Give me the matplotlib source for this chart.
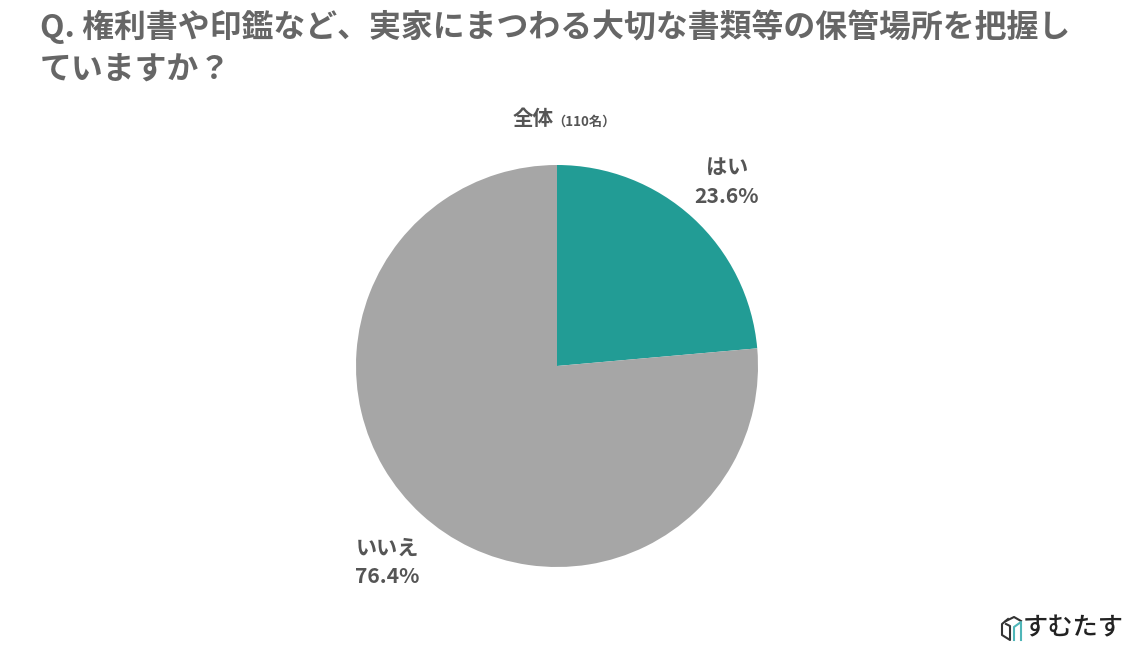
import matplotlib
matplotlib.use("Agg")
import matplotlib.pyplot as plt

plt.rcParams['font.family'] = ['Noto Sans CJK JP', 'DejaVu Sans']

title_lines = ["Q. 権利書や印鑑など、実家にまつわる大切な書類等の保管場所を把握し", "ていますか？"]
subtitle = "全体"
subtitle_n = "（110名）"
categories = ["はい", "いいえ"]
values = [23.6, 76.4]
labels = ["23.6%", "76.4%"]
colors = ["#229c95", "#a6a6a6"]
brand = "すむたす"

W, H = 1140, 655
fig = plt.figure(figsize=(W/100, H/100), dpi=100, facecolor="white")
ax = fig.add_axes([356/W, 1-567/H, 402/W, 402/H])
ax.pie(values, colors=colors, startangle=90, counterclock=False, radius=1.0,
       wedgeprops=dict(linewidth=0))
ax.set_xlim(-1, 1); ax.set_ylim(-1, 1); ax.set_aspect("equal")

tc = "#555555"
def T(x, y, s, size, ha="left", color=tc, weight="bold"):
    fig.text(x/W, 1-y/H, s, fontsize=size, ha=ha, va="center", color=color, fontweight=weight)

T(40, 27, title_lines[0], 22.95, color="#666666")
T(40, 70, title_lines[1], 22.95, color="#666666")
T(513, 118.5, subtitle, 14.8)
T(552, 122, subtitle_n, 9.5)
T(727, 167, categories[0], 15.2, ha="center")
T(727, 196.5, labels[0], 15.2, ha="center")
T(387, 548, categories[1], 15.2, ha="center")
T(387, 576.5, labels[1], 15.2, ha="center")
T(1073.5, 628, brand, 18.2, ha="center", color="#222222", weight="medium")

# brand mark
la = fig.add_axes([0, 0, 1, 1], facecolor="none")
la.set_xlim(0, W); la.set_ylim(H, 0); la.axis("off")
la.plot([1008, 1002, 1002, 1010, 1010, 1006], [619, 624, 635, 640, 626, 624], color="#333333", lw=1.5)
la.plot([1006, 1014, 1021], [621, 617, 621], color="#333333", lw=1.5)
la.plot([1014, 1014, 1021, 1021], [640, 627, 622, 640], color="#4fb6b8", lw=1.5)

fig.savefig("out.png", dpi=100)
